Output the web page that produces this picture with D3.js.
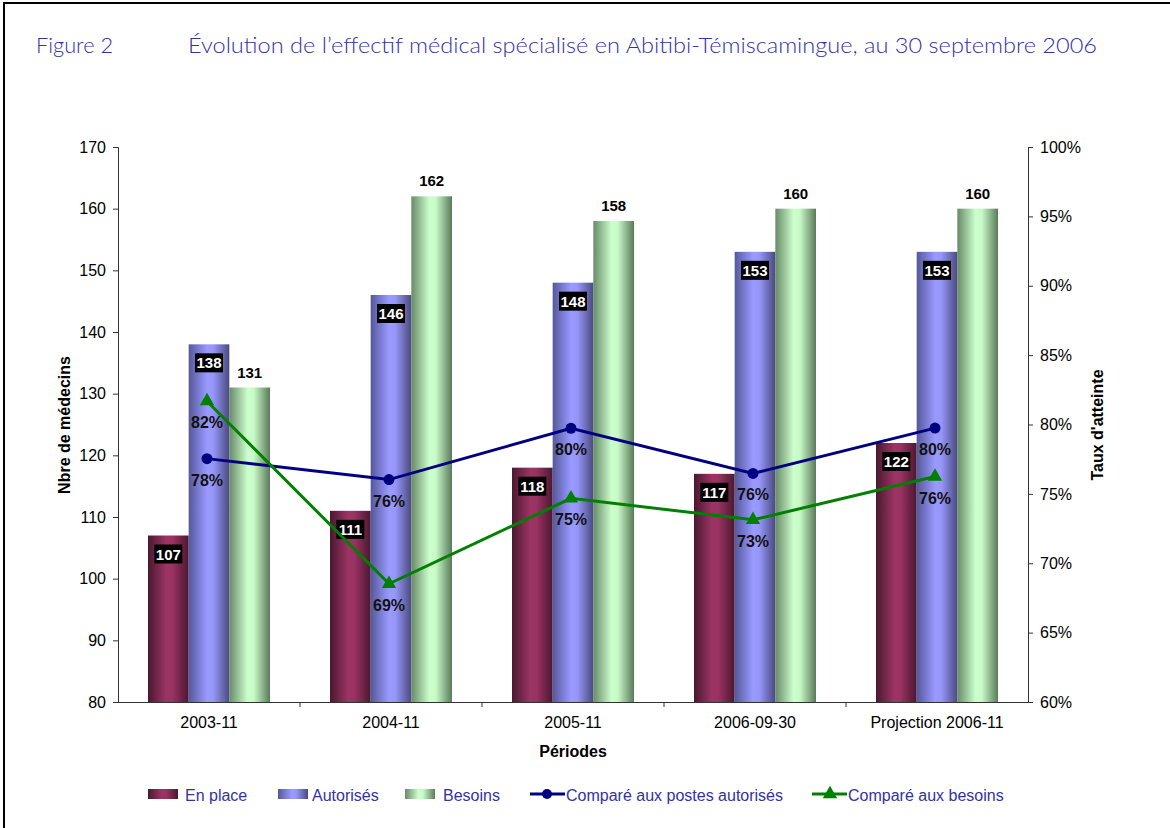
<!DOCTYPE html>
<html><head><meta charset="utf-8">
<script src="https://cdn.jsdelivr.net/npm/d3@7"></script>
<style>body{margin:0;background:#fff}svg{display:block}</style>
</head><body>
<svg id="c" width="1170" height="828"></svg>
<script>
const categories = ["2003-11","2004-11","2005-11","2006-09-30","Projection 2006-11"];
const enPlace = [107,111,118,117,122];
const autorises = [138,146,148,153,153];
const besoins = [131,162,158,160,160];
const compAutorises = [0.7754,0.7603,0.7973,0.7647,0.7974];
const compBesoins = [0.8168,0.6852,0.7468,0.7313,0.7625];
const leftTicks = [80,90,100,110,120,130,140,150,160,170];
const rightTicks = [0.60,0.65,0.70,0.75,0.80,0.85,0.90,0.95,1.00];

const svg = d3.select("#c");
const font = "'Liberation Sans', Arial, sans-serif";
const titleFont = "'Lato', 'Open Sans', sans-serif";
const legendColor = "#3333a0";

// frame
svg.append("rect").attr("x",4).attr("y",3).attr("width",1180).attr("height",840)
  .attr("fill","none").attr("stroke","#000").attr("stroke-width",2);

// title
svg.append("text").attr("x",36).attr("y",53).attr("font-family",titleFont).attr("font-size",21)
  .attr("font-weight",300).attr("fill","#3333a6")
  .attr("textLength",77).attr("lengthAdjust","spacingAndGlyphs").text("Figure 2");
svg.append("text").attr("x",188).attr("y",53).attr("font-family",titleFont).attr("font-size",21)
  .attr("font-weight",300).attr("fill","#3333a6")
  .attr("textLength",909).attr("lengthAdjust","spacingAndGlyphs")
  .text("Évolution de l’effectif médical spécialisé en Abitibi-Témiscamingue, au 30 septembre 2006");

const L=118, R=1028, T=147, B=702;
const x0 = d3.scaleBand().domain(categories).range([L,R]).padding(0);
const series = ["enPlace","autorises","besoins"];
const x1 = d3.scaleBand().domain(series).range([30, x0.bandwidth()-30]).padding(0);
const yL = d3.scaleLinear().domain([80,170]).range([B,T]);
const yR = d3.scaleLinear().domain([0.6,1.0]).range([B,T]);

// gradients
const defs = svg.append("defs");
function grad(id, stops){
  const g = defs.append("linearGradient").attr("id",id).attr("x1","0").attr("x2","1").attr("y1","0").attr("y2","0");
  stops.forEach(s=>g.append("stop").attr("offset",s[0]).attr("stop-color",s[1]));
}
grad("gEn",[[0,"#4a1830"],[0.45,"#9c3464"],[0.6,"#9a3262"],[1,"#4a1830"]]);
grad("gAu",[[0,"#55589a"],[0.45,"#9999ff"],[0.6,"#9797fa"],[1,"#4a4a80"]]);
grad("gBe",[[0,"#688a68"],[0.45,"#ccffcc"],[0.6,"#c8fac8"],[1,"#5a7a5a"]]);
const fills = {enPlace:"url(#gEn)",autorises:"url(#gAu)",besoins:"url(#gBe)"};
const data = {enPlace, autorises, besoins};

// bars
categories.forEach((c,i)=>{
  series.forEach(s=>{
    const v = data[s][i];
    svg.append("rect").attr("x",x0(c)+x1(s)).attr("y",yL(v))
      .attr("width",x1.bandwidth()).attr("height",B-yL(v)).attr("fill",fills[s]);
  });
});

// axes
const axL = svg.append("g").attr("transform",`translate(${L},0)`)
  .call(d3.axisLeft(yL).tickValues(leftTicks).tickSize(5).tickPadding(7));
const axR = svg.append("g").attr("transform",`translate(${R},0)`)
  .call(d3.axisRight(yR).tickValues(rightTicks).tickSize(5).tickPadding(7).tickFormat(d=>Math.round(d*100)+"%"));
const axB = svg.append("g").attr("transform",`translate(0,${B})`)
  .call(d3.axisBottom(x0).tickSize(0).tickPadding(15));
[axL,axR,axB].forEach(a=>{
  a.selectAll("text").attr("font-family",font).attr("font-size",16).attr("fill","#000");
  a.selectAll("line").attr("stroke","#333");
  a.select(".domain").attr("stroke","#333");
});
axB.select(".domain").attr("d",`M${L},0.5H${R}`);
// boundary ticks on x axis
const bounds = categories.slice(1).map(c=>x0(c));
svg.append("g").selectAll("line").data(bounds).join("line")
  .attr("x1",d=>d).attr("x2",d=>d).attr("y1",B).attr("y2",B+5).attr("stroke","#333");

// axis titles
svg.append("text").attr("x",573).attr("y",757).attr("text-anchor","middle")
  .attr("font-family",font).attr("font-size",16).attr("font-weight","bold").text("Périodes");
svg.append("text").attr("transform","translate(70,425) rotate(-90)").attr("text-anchor","middle")
  .attr("font-family",font).attr("font-size",16).attr("font-weight","bold").text("Nbre de médecins");
svg.append("text").attr("transform","translate(1103,425) rotate(-90)").attr("text-anchor","middle")
  .attr("font-family",font).attr("font-size",16).attr("font-weight","bold").text("Taux d'atteinte");

// bar labels (boxes)
function boxLabel(cx, yTop, txt){
  const g = svg.append("g");
  g.append("rect").attr("x",cx-14).attr("y",yTop+9).attr("width",28).attr("height",19).attr("fill","#000");
  g.append("text").attr("x",cx).attr("y",yTop+24).attr("text-anchor","middle")
    .attr("font-family",font).attr("font-size",15).attr("font-weight","bold").attr("fill","#fff").text(txt);
}
categories.forEach((c,i)=>{
  boxLabel(x0(c)+x1("enPlace")+x1.bandwidth()/2, yL(enPlace[i]), enPlace[i]);
  boxLabel(x0(c)+x1("autorises")+x1.bandwidth()/2, yL(autorises[i]), autorises[i]);
  svg.append("text").attr("x",x0(c)+x1("besoins")+x1.bandwidth()/2).attr("y",yL(besoins[i])-10)
    .attr("text-anchor","middle").attr("font-family",font).attr("font-size",15).attr("font-weight","bold").text(besoins[i]);
});

// lines
const cx = c => x0(c)+x0.bandwidth()/2 - 2;
const lineGen = vals => d3.line().x((d,i)=>cx(categories[i])).y(d=>yR(d))(vals);
svg.append("path").attr("d",lineGen(compAutorises)).attr("fill","none").attr("stroke","#000080").attr("stroke-width",3);
svg.append("path").attr("d",lineGen(compBesoins)).attr("fill","none").attr("stroke","#008000").attr("stroke-width",3);
const tri = d3.symbol().type(d3.symbolTriangle).size(90);
categories.forEach((c,i)=>{
  svg.append("circle").attr("cx",cx(c)).attr("cy",yR(compAutorises[i])).attr("r",5.5).attr("fill","#000080");
  svg.append("path").attr("d",tri()).attr("transform",`translate(${cx(c)},${yR(compBesoins[i])})`).attr("fill","#008000");
  [compAutorises[i], compBesoins[i]].forEach(v=>{
    svg.append("text").attr("x",cx(c)).attr("y",yR(v)+27).attr("text-anchor","middle")
      .attr("font-family",font).attr("font-size",16).attr("font-weight","bold").attr("fill","#111")
      .text(Math.round(v*100)+"%");
  });
});

// legend
const ly = 795;
const legendItems = [
  {t:"rect", f:"url(#gEn)", x:148, tx:185, label:"En place"},
  {t:"rect", f:"url(#gAu)", x:278, tx:312, label:"Autorisés"},
  {t:"rect", f:"url(#gBe)", x:405, tx:443, label:"Besoins"},
  {t:"circle", c:"#000080", x:530, tx:566, label:"Comparé aux postes autorisés"},
  {t:"tri", c:"#008000", x:812, tx:848, label:"Comparé aux besoins"}
];
legendItems.forEach(it=>{
  if(it.t==="rect"){
    svg.append("rect").attr("x",it.x).attr("y",ly-6).attr("width",30).attr("height",10).attr("fill",it.f);
  } else {
    svg.append("line").attr("x1",it.x).attr("x2",it.x+35).attr("y1",ly-1).attr("y2",ly-1).attr("stroke",it.c).attr("stroke-width",3);
    if(it.t==="circle") svg.append("circle").attr("cx",it.x+17).attr("cy",ly-1).attr("r",5).attr("fill",it.c);
    else svg.append("path").attr("d",tri()).attr("transform",`translate(${it.x+18},${ly-1})`).attr("fill",it.c);
  }
  svg.append("text").attr("x",it.tx).attr("y",ly+6).attr("font-family",font).attr("font-size",16)
    .attr("fill",legendColor).text(it.label);
});
</script>
</body></html>
